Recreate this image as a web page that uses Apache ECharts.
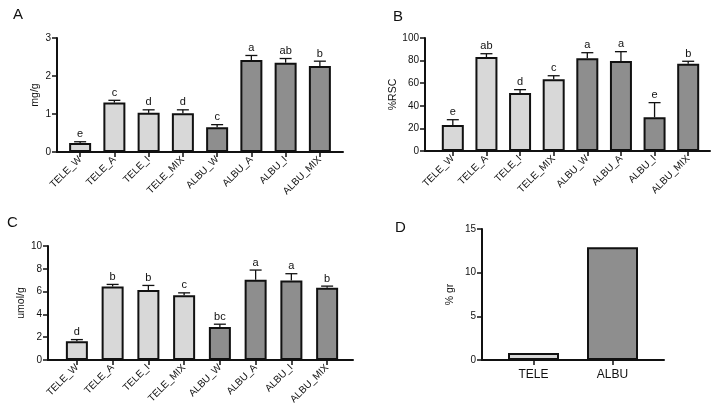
<!DOCTYPE html>
<html>
<head>
<meta charset="UTF-8">
<title>Bar panels</title>
<script src="https://cdn.jsdelivr.net/npm/echarts@6/dist/echarts.min.js"></script>
<style>
  body { margin: 0; background: #fff; }
  #chart { width: 720px; height: 413px; }
</style>
</head>
<body>
<div id="chart"></div>
<script>
// categories
const categories = ['TELE_W', 'TELE_A', 'TELE_I', 'TELE_MIX', 'ALBU_W', 'ALBU_A', 'ALBU_I', 'ALBU_MIX'];
const dCategories = ['TELE', 'ALBU'];

// panel A (mg/g)
const aMean = [0.24, 1.30, 1.03, 1.02, 0.65, 2.42, 2.35, 2.26];
const aErr = [0.03, 0.06, 0.08, 0.09, 0.07, 0.12, 0.11, 0.13];
const aLetters = ['e', 'c', 'd', 'd', 'c', 'a', 'ab', 'b'];

// panel B (%RSC)
const bMean = [23, 83.2, 51.3, 63.6, 82, 79.6, 29.8, 77.3];
const bErr = [4.7, 2.9, 3, 3, 5, 8.3, 13, 2.1];
const bLetters = ['e', 'ab', 'd', 'c', 'a', 'a', 'e', 'b'];

// panel C (umol/g)
const cMean = [1.64, 6.45, 6.13, 5.69, 2.90, 7.04, 6.98, 6.33];
const cErr = [0.15, 0.18, 0.41, 0.20, 0.24, 0.85, 0.59, 0.15];
const cLetters = ['d', 'b', 'b', 'c', 'bc', 'a', 'a', 'b'];

// panel D (% gr)
const dMean = [0.8, 12.9];

const FONT = 'Arial, "Liberation Sans", sans-serif';
const INK = '#111';
const LIGHT = '#d8d8d8';
const DARK = '#8e8e8e';

const chart = echarts.init(document.getElementById('chart'));

const grid = [], xAxis = [], yAxis = [], series = [], title = [];

// each panel: a "frame" grid for axis lines, and a bar grid shifted inward (Prism style gap)
function addPanel(p) {
  const gb = grid.length;      // bar grid
  const gf = gb + 1;           // frame grid
  grid.push({ left: p.barLeft, top: p.top, width: p.barWidth, height: p.height, outerBoundsMode: 'none' });
  grid.push({ left: p.frameLeft, top: p.top, width: p.frameWidth, height: p.height, outerBoundsMode: 'none' });

  xAxis.push({
    gridIndex: gb, type: 'category', data: p.cats,
    axisLine: { show: false },
    axisTick: { show: true, alignWithLabel: true, length: 5, lineStyle: { color: INK, width: 1.5 } },
    axisLabel: { interval: 0, rotate: p.rotate, fontSize: p.labelSize, color: INK, fontFamily: FONT, margin: p.labelMargin }
  });
  xAxis.push({
    gridIndex: gf, type: 'value', min: 0, max: 1,
    axisLine: { show: true, lineStyle: { color: INK, width: 2 } },
    axisTick: { show: false }, axisLabel: { show: false }, splitLine: { show: false }
  });
  yAxis.push({ gridIndex: gb, type: 'value', min: 0, max: p.max, interval: p.interval, show: false, splitLine: { show: false } });
  yAxis.push({
    gridIndex: gf, type: 'value', min: 0, max: p.max, interval: p.interval,
    name: p.yName, nameLocation: 'middle', nameGap: p.nameGap,
    nameTextStyle: { fontSize: 10.5, color: INK, fontFamily: FONT },
    axisLine: { show: true, lineStyle: { color: INK, width: 2 } },
    axisTick: { show: true, length: 5, lineStyle: { color: INK, width: 1.5 } },
    axisLabel: { fontSize: 10, color: INK, fontFamily: FONT, margin: 6 },
    splitLine: { show: false }
  });

  series.push({
    type: 'bar', xAxisIndex: gb, yAxisIndex: gb,
    barWidth: p.bw,
    data: p.mean.map((v, i) => ({
      value: v,
      itemStyle: { color: p.cats[i].indexOf('TELE') === 0 ? LIGHT : DARK }
    })),
    itemStyle: { borderColor: INK, borderWidth: 2 },
    z: 2
  });

  if (p.err) {
    series.push({
      type: 'custom', xAxisIndex: gb, yAxisIndex: gb, z: 3,
      data: p.mean.map((v, i) => [i, v, v + p.err[i]]),
      renderItem: function (params, api) {
        const base = api.coord([api.value(0), api.value(1)]);
        const top = api.coord([api.value(0), api.value(2)]);
        const lineStyle = { stroke: INK, lineWidth: 1.3 };
        return {
          type: 'group',
          children: [
            { type: 'line', shape: { x1: base[0], y1: base[1], x2: top[0], y2: top[1] }, style: lineStyle },
            { type: 'line', shape: { x1: top[0] - 6, y1: top[1], x2: top[0] + 6, y2: top[1] }, style: lineStyle },
            {
              type: 'text', x: top[0], y: top[1] - 2,
              style: {
                text: p.letters[params.dataIndex], fill: INK, fontSize: 11, fontFamily: FONT,
                textAlign: 'center', textVerticalAlign: 'bottom'
              }
            }
          ]
        };
      }
    });
  }

  title.push({
    text: p.tag, left: p.tagLeft, top: p.tagTop, padding: 0,
    textStyle: { fontSize: 15, fontWeight: 'normal', color: INK, fontFamily: FONT }
  });
}

addPanel({
  tag: 'A', tagLeft: 13, tagTop: 7,
  cats: categories, mean: aMean, err: aErr, letters: aLetters,
  frameLeft: 57, frameWidth: 286, barLeft: 63, barWidth: 274, top: 38, height: 114,
  max: 3, interval: 1, yName: 'mg/g', nameGap: 16,
  bw: 22, rotate: 45, labelSize: 10, labelMargin: 6
});
addPanel({
  tag: 'B', tagLeft: 393, tagTop: 9,
  cats: categories, mean: bMean, err: bErr, letters: bLetters,
  frameLeft: 425, frameWidth: 285, barLeft: 436, barWidth: 269, top: 38, height: 113,
  max: 100, interval: 20, yName: '%RSC', nameGap: 19,
  bw: 22, rotate: 45, labelSize: 10, labelMargin: 6
});
addPanel({
  tag: 'C', tagLeft: 7, tagTop: 215,
  cats: categories, mean: cMean, err: cErr, letters: cLetters,
  frameLeft: 48, frameWidth: 305, barLeft: 59, barWidth: 286, top: 246, height: 114,
  max: 10, interval: 2, yName: 'umol/g', nameGap: 14,
  bw: 22, rotate: 45, labelSize: 10, labelMargin: 6
});
addPanel({
  tag: 'D', tagLeft: 395, tagTop: 220,
  cats: dCategories, mean: dMean, err: null, letters: null,
  frameLeft: 482, frameWidth: 182, barLeft: 494, barWidth: 158, top: 229, height: 131,
  max: 15, interval: 5, yName: '% gr', nameGap: 26,
  bw: 51, rotate: 0, labelSize: 12, labelMargin: 9
});

chart.setOption({
  animation: false,
  backgroundColor: '#fff',
  title: title,
  grid: grid,
  xAxis: xAxis,
  yAxis: yAxis,
  series: series
});
</script>
</body>
</html>
